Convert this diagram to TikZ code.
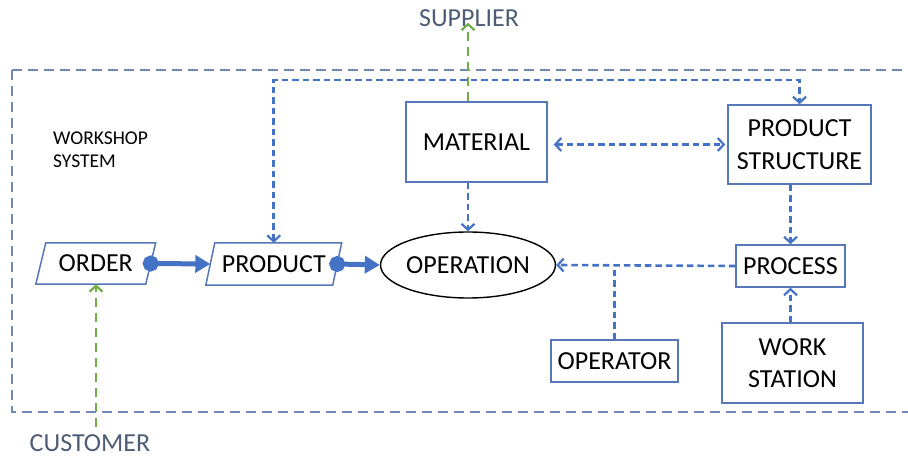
\documentclass[tikz,border=0pt]{standalone}
\usepackage{fontspec}
\setmainfont{Carlito}
\usetikzlibrary{arrows.meta,shapes.geometric,calc}
\definecolor{boxcol}{HTML}{5677B8}
\definecolor{dashblue}{HTML}{4472C4}
\definecolor{outercol}{HTML}{7189B5}
\definecolor{greencol}{HTML}{70AD47}
\definecolor{slate}{HTML}{4D5D75}
\tikzset{
  lbl/.style={font=\fontsize{26}{32.5}\selectfont, text=black, align=center, inner sep=0pt},
  rbox/.style={lbl, draw=boxcol, line width=1.5pt},
  pgram/.style={lbl},
  pgline/.style={draw=boxcol, line width=1.5pt},
  ell/.style={lbl, ellipse, draw=black, line width=1.4pt},
  dflow/.style={draw=dashblue, line width=2.6pt, dash pattern=on 6.5pt off 4pt, -{Straight Barb[length=6pt,width=13pt,line width=2.2pt]}},
  dline/.style={draw=dashblue, line width=2.6pt, dash pattern=on 6.5pt off 4pt},
  gflow/.style={draw=greencol, line width=2.6pt, dash pattern=on 9pt off 6pt, -{Straight Barb[length=6pt,width=13pt,line width=2.2pt]}},
  flow/.style={draw=dashblue, line width=5pt, {Circle[length=16pt]}-{Triangle[length=15pt,width=17pt]}, shorten <=-8pt},
  ext/.style={font=\fontsize{26}{30}\selectfont, text=slate, inner sep=0pt},
  outer/.style={draw=outercol, line width=1.6pt, dash pattern=on 10pt off 6pt}
}
\begin{document}
\begin{tikzpicture}[x=1pt,y=-1pt]
\useasboundingbox (0,0) rectangle (908,457);
\draw[outer] (12,70) -- (920,70) (12,70) -- (12,412) -- (920,412);

\node[font=\fontsize{19.5}{23}\selectfont, align=left, anchor=north west, inner sep=0pt] (ws) at (53,132) {WORKSHOP\\SYSTEM};

\node[ext] (supplier) at (469,18) {SUPPLIER};
\node[ext] (customer) at (90,443) {CUSTOMER};

\node[rbox, minimum width=141pt, minimum height=80pt] (material) at (476.5,142) {MATERIAL};
\node[rbox, minimum width=143pt, minimum height=79pt] (ps) at (799.5,144.5) {PRODUCT\\STRUCTURE};
\node[ell, minimum width=150pt, minimum height=66pt] (operation) at (468,265) {OPERATION};
\node[rbox, minimum width=109pt, minimum height=42pt] (process) at (790.5,266) {PROCESS};
\node[rbox, minimum width=127pt, minimum height=42pt] (operator) at (614.5,361) {OPERATOR};
\node[rbox, minimum width=141pt, minimum height=80pt] (workst) at (792.5,363) {WORK\\STATION};

\node[pgram, minimum width=109.5pt, minimum height=41pt] (order) at (95.75,263.5) {ORDER};
\node[pgram, minimum width=126.5pt, minimum height=42pt] (product) at (273.75,264) {PRODUCT};
\draw[pgline] ([xshift=5pt]order.north west) -- ([xshift=5pt]order.north east) -- ([xshift=-5pt]order.south east) -- ([xshift=-5pt]order.south west) -- cycle;
\draw[pgline] ([xshift=4.5pt]product.north west) -- ([xshift=4.5pt]product.north east) -- ([xshift=-4.5pt]product.south east) -- ([xshift=-4.5pt]product.south west) -- cycle;

\coordinate (topline) at (0,80);
\coordinate (ext) at (96,427);

% solid flows
\draw[flow] (order.east) -- (product.west);
\draw[flow] (product.east) -- (operation.west);

% dashed flows
\draw[dflow, {Straight Barb[length=6pt,width=13pt,line width=2.2pt]}-{Straight Barb[length=6pt,width=13pt,line width=2.2pt]}] (product.north) -- (product.north |- topline) -| (ps.north);
\draw[dflow, {Straight Barb[length=6pt,width=13pt,line width=2.2pt]}-{Straight Barb[length=6pt,width=13pt,line width=2.2pt]}, shorten <=6pt, shorten >=2pt] (material.east |- ps.west) -- (ps.west);
\draw[dflow] (operation.north |- material.south) -- (operation.north);
\draw[dflow] (ps.south -| process.north) -- (process.north);
\draw[dflow] (process.west) -- (operation.east);
\draw[dline] (operator.north) -- (operator.north |- process.west);
\draw[dflow] (workst.north -| process.south) -- (process.south);

% green external flows
\draw[gflow] (operation.north |- material.north) -- ([yshift=4pt]supplier.south -| operation.north);
\draw[gflow] (ext) -- (order.south -| ext);
\end{tikzpicture}
\end{document}
